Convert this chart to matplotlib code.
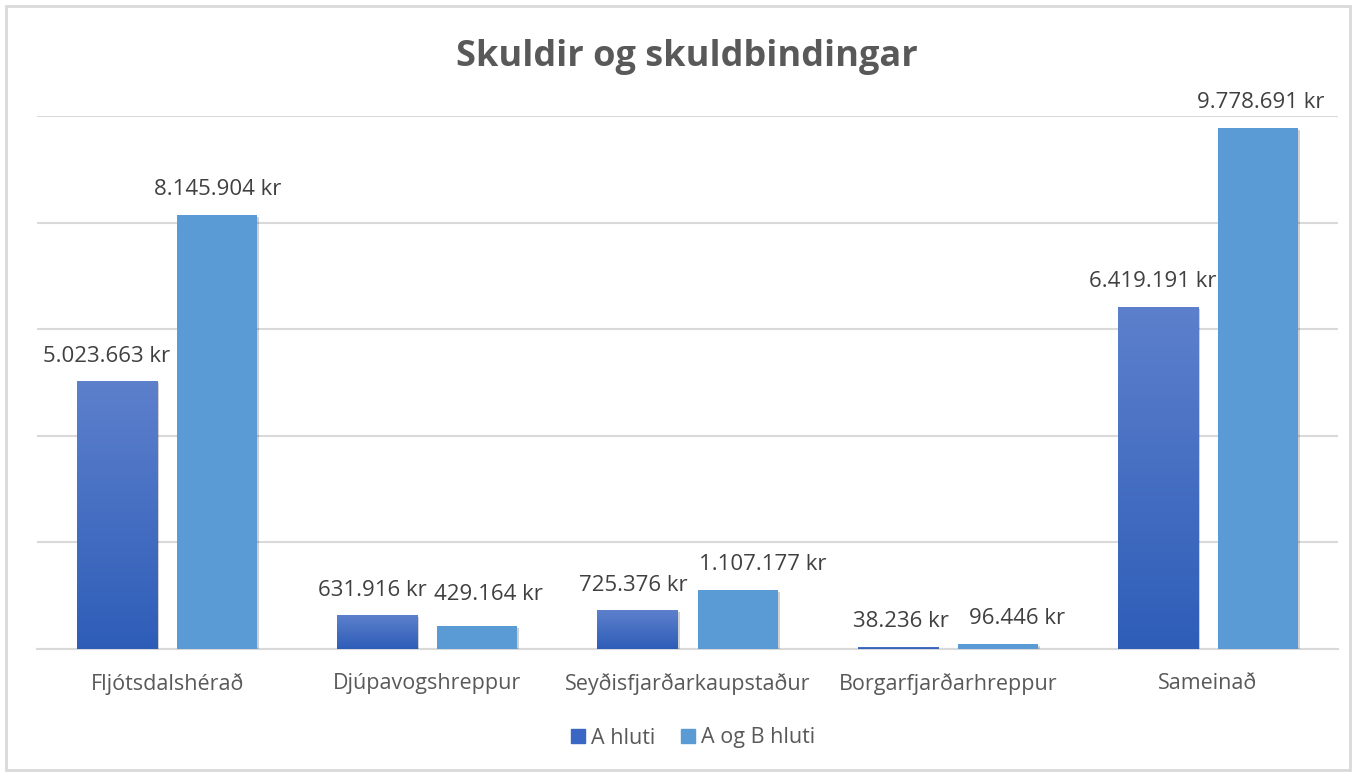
import matplotlib
matplotlib.use("Agg")
import matplotlib.pyplot as plt
import numpy as np
from matplotlib.patches import Rectangle
from matplotlib.colors import LinearSegmentedColormap
from matplotlib.lines import Line2D
import matplotlib.patheffects as pe

categories = ["Fljótsdalshérað", "Djúpavogshreppur", "Seyðisfjarðarkaupstaður",
              "Borgarfjarðarhreppur", "Sameinað"]
a_hluti = [5023663, 631916, 725376, 38236, 6419191]
a_og_b = [8145904, 429164, 1107177, 96446, 9778691]
series_names = ["A hluti", "A og B hluti"]
title = "Skuldir og skuldbindingar"

# label nudges (pixels) as Excel spreads overlapping labels
a_label_dx = [-10, -5, -4, 3, -5]
b_label_dx = [1, 11, 25, 19, 3]
a_label_dy = [0, 0, 0, 0, 0]
b_label_dy = [0, 7, 0, 0, 0]

FONT = "Open Sans"
plt.rcParams['font.family'] = [FONT, 'DejaVu Sans']

W, H = 1355, 773
fig = plt.figure(figsize=(W / 100, H / 100), dpi=100)
ax = fig.add_axes([37 / W, 1 - 649 / H, (1338 - 37) / W, (649 - 116) / H])

x = np.arange(len(categories))
bw = 80 / 260
off = 50 / 260

grad = LinearSegmentedColormap.from_list("g", ["#2E5DB8", "#5D80CC"])
b_color = "#5B9BD5"

shadow = [pe.SimplePatchShadow(offset=(1.5, -1.5), shadow_rgbFace="#000000", alpha=0.18),
          pe.Normal()]

bars_a = ax.bar(x - off, a_hluti, width=bw, color="#3E68C2", zorder=3, path_effects=shadow,
                label=series_names[0])
bars_b = ax.bar(x + off, a_og_b, width=bw, color=b_color, zorder=3, path_effects=shadow,
                label=series_names[1])

g = np.linspace(0, 1, 256).reshape(-1, 1)
for r in bars_a:
    x0, w, h = r.get_x(), r.get_width(), r.get_height()
    im = ax.imshow(g, cmap=grad, origin="lower", aspect="auto",
                   extent=(x0, x0 + w, 0, h), zorder=3.5)
    im.set_clip_path(r)

ax.set_xlim(-0.5, len(categories) - 0.5)
ax.set_ylim(0, 10000000)
ax.set_aspect("auto")
ax.set_yticks(np.arange(0, 10000001, 2000000))
ax.yaxis.grid(True, color="#D9D9D9", lw=1.5, zorder=0)
ax.set_axisbelow(True)
for s in ["top", "right", "left"]:
    ax.spines[s].set_visible(False)
ax.spines["bottom"].set_color("#D9D9D9")
ax.spines["bottom"].set_linewidth(1.5)
ax.tick_params(axis="y", left=False, labelleft=False)
ax.tick_params(axis="x", bottom=False, pad=14, labelsize=15.5, labelcolor="#595959")
ax.set_xticks(x)
ax.set_xticklabels(categories)

def fmt(v):
    return f"{v:,}".replace(",", ".") + " kr"

for bars, vals, dxs, dys in [(bars_a, a_hluti, a_label_dx, a_label_dy),
                             (bars_b, a_og_b, b_label_dx, b_label_dy)]:
    for r, v, dx, dy in zip(bars, vals, dxs, dys):
        ax.annotate(fmt(v), (r.get_x() + r.get_width() / 2, v),
                    xytext=(dx * 0.72, (25 + dy) * 0.72), textcoords="offset points",
                    ha="center", va="center", fontsize=16, color="#404040", zorder=5)

fig.text(687 / W, 1 - 57 / H, title, ha="center", va="center", fontsize=26,
         fontweight="bold", color="#595959")

handles = [Line2D([], [], marker="s", ls="", color="#3A66C4", markersize=10),
           Line2D([], [], marker="s", ls="", color=b_color, markersize=10)]
fig.legend(handles, series_names, loc="center", bbox_to_anchor=(691 / W, 1 - 738 / H),
           ncol=2, frameon=False, fontsize=15.5, labelcolor="#595959",
           handletextpad=0.1, columnspacing=1.0, handlelength=1.0)

fig.patches.append(Rectangle((6 / W, 3 / H), (1350 - 6) / W, (767 - 3) / H,
                             transform=fig.transFigure, fill=False,
                             edgecolor="#D9D9D9", lw=2))

fig.savefig("out.png", dpi=100)
